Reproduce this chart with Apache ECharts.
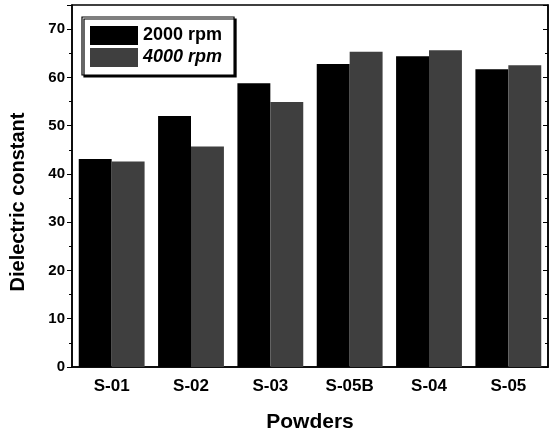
<!DOCTYPE html>
<html>
<head>
    <meta charset="utf-8">
    <script src="https://cdn.jsdelivr.net/npm/echarts@6/dist/echarts.min.js"></script>
</head>
<body style="margin:0;background:#fff;">
    <div id="main" style="width:553px;height:434px;"></div>
    <script type="text/javascript">
        var powders = ['S-01', 'S-02', 'S-03', 'S-05B', 'S-04', 'S-05'];
        var rpm2000 = [43.1, 52.0, 58.8, 62.8, 64.4, 61.7];
        var rpm4000 = [42.6, 45.7, 54.9, 65.3, 65.6, 62.5];

        var font = '"Liberation Sans", Arial, sans-serif';
        var myChart = echarts.init(document.getElementById('main'));

        var option = {
            backgroundColor: '#fff',
            animation: false,
            grid: {
                left: 72,
                right: 5,
                top: 5,
                bottom: 67,
                outerBoundsMode: 'none',
                containLabel: false,
                show: true,
                borderColor: '#000',
                borderWidth: 1.5
            },
            legend: {
                left: 82,
                top: 17,
                orient: 'vertical',
                icon: 'rect',
                itemWidth: 48,
                itemHeight: 19,
                itemGap: 3,
                padding: [9, 12, 8, 8],
                backgroundColor: '#fff',
                borderColor: '#000',
                borderWidth: 1.2,
                shadowColor: '#000',
                shadowBlur: 0,
                shadowOffsetX: 2,
                shadowOffsetY: 2,
                data: ['2000 rpm', '4000 rpm'],
                formatter: function (name) {
                    return name === '4000 rpm' ? '{i|' + name + '}' : '{n|' + name + '}';
                },
                textStyle: {
                    rich: {
                        n: { fontFamily: font, fontSize: 18, fontWeight: 'bold', color: '#000' },
                        i: { fontFamily: font, fontSize: 18, fontWeight: 'bold', fontStyle: 'italic', color: '#000' }
                    }
                }
            },
            xAxis: {
                type: 'category',
                data: powders,
                name: 'Powders',
                nameLocation: 'middle',
                nameGap: 45,
                nameTextStyle: { fontFamily: font, fontSize: 21, fontWeight: 'bold', color: '#000' },
                axisLine: { lineStyle: { color: '#000', width: 1.5 } },
                axisTick: { show: false },
                axisLabel: { fontFamily: font, fontSize: 17, fontWeight: 'bold', color: '#000', margin: 11 }
            },
            yAxis: [{
                type: 'value',
                min: 0,
                max: 75,
                interval: 10,
                name: 'Dielectric constant',
                nameLocation: 'middle',
                nameGap: 44,
                nameTextStyle: {
                    fontFamily: font, fontSize: 20, fontWeight: 'bold', color: '#000',
                    padding: [0, 32, 0, 0]
                },
                axisLine: { show: true, lineStyle: { color: '#000', width: 1.5 } },
                axisTick: { show: true, length: 5, lineStyle: { color: '#000' } },
                minorTick: { show: true, splitNumber: 2, length: 3, lineStyle: { color: '#000' } },
                splitLine: { show: false },
                axisLabel: {
                    fontFamily: font, fontSize: 15, fontWeight: 'bold', color: '#000', margin: 7,
                    showMaxLabel: false
                }
            }, {
                type: 'value',
                min: 0,
                max: 75,
                interval: 10,
                position: 'right',
                axisLine: { show: true, lineStyle: { color: '#000', width: 1.5 } },
                axisTick: { show: true, inside: true, length: 5, lineStyle: { color: '#000' } },
                minorTick: { show: true, splitNumber: 2, length: 3, lineStyle: { color: '#000' } },
                splitLine: { show: false },
                axisLabel: { show: false }
            }],
            series: [{
                name: '2000 rpm',
                type: 'bar',
                data: rpm2000,
                barGap: '0%',
                barCategoryGap: '17%',
                itemStyle: { color: '#000' }
            }, {
                name: '4000 rpm',
                type: 'bar',
                data: rpm4000,
                barGap: '0%',
                barCategoryGap: '17%',
                itemStyle: { color: '#3f3f3f' }
            }]
        };
        myChart.setOption(option);
    </script>
</body>
</html>
